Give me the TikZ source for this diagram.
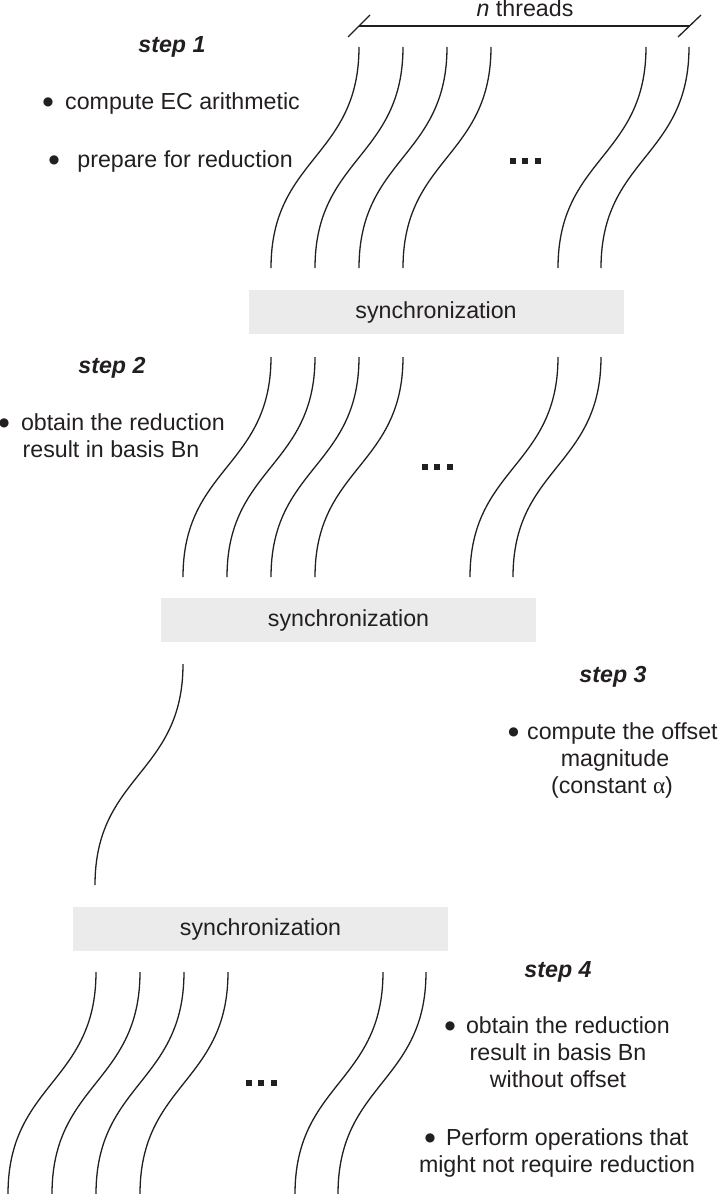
\documentclass[tikz,border=0pt]{standalone}
\usepackage{fontspec}
\setmainfont{Liberation Sans}
\newfontfamily\alphafont{Liberation Serif}
\newfontfamily\bulfont{DejaVu Sans}
\definecolor{ink}{RGB}{35,31,32}
\definecolor{syncfill}{RGB}{235,235,236}
\newcommand{\threadset}[5]{%
  \foreach \o [count=\i] in {#5} {
    \coordinate (#1t\i) at ({#2+\o},#3);
    \coordinate (#1b\i) at ({#2+\o-88},#4);
    \draw[thread] (#1t\i) .. controls +(0,{(#4-#3)/2}) and +(0,{-(#4-#3)/2}) .. (#1b\i);
  }}
\newcommand{\dotrow}[2]{%
  \foreach \dx in {-12.5,0,12.5} {
    \fill[ink] ({#1+\dx-3},{#2-2.8}) rectangle ++(6,5.6);
  }}
\begin{document}
\begin{tikzpicture}[x=0.5pt,y=-0.5pt,
  every node/.style={inner sep=0pt, outer sep=0pt, text=ink, font=\fontsize{11.6pt}{13.5pt}\selectfont},
  thread/.style={draw=ink, line width=0.65pt},
  syncbox/.style={fill=syncfill, minimum width=187.5pt, minimum height=22pt, anchor=center},
  steplabel/.style={anchor=base, font=\fontsize{11.6pt}{13.5pt}\selectfont\bfseries\itshape},
  bullet/.style={anchor=center, font=\fontsize{6pt}{7pt}\bulfont},
  bline/.style={anchor=base west},
  cline/.style={anchor=base}
]
\useasboundingbox (0,0) rectangle (719,1194);

% n threads brace
\coordinate (bl) at (359,26);
\coordinate (br) at (689.5,26);
\draw[thread] (bl) -- (br);
\draw[thread] (bl) ++(-11,11) -- ++(22,-22);
\draw[thread] (br) ++(-11.5,11) -- ++(23,-22);
\node[anchor=base] (nthr) at (525,17) {\textit{n} threads};

% step 1
\threadset{sa}{359}{47}{268}{0,44,88,132,287,330}
\dotrow{525}{161}
\node[steplabel] (st1) at (172,53) {step 1};
\node[bullet] (b1a) at (48,102.5) {●};
\node[bline] (st1a) at (65.2,109) {compute EC arithmetic};
\node[bullet] (b1b) at (54,160.5) {●};
\node[bline] (st1b) at (77.4,167) {prepare for reduction};

\node[syncbox] (sync1) at (436,312) {synchronization};

% step 2
\threadset{sb}{271}{357}{577}{0,44,88,132,287,330}
\dotrow{437}{467}
\node[steplabel] (st2) at (112,373) {step 2};
\node[bullet] (b2a) at (4,423.5) {●};
\node[bline] (st2a) at (21,430) {obtain the reduction};
\node[cline] (st2b) at (111,457) {result in basis Bn};

\node[syncbox] (sync2) at (348.5,620) {synchronization};

% step 3
\threadset{sc}{183}{664}{885}{0}
\node[steplabel] (st3) at (613,682) {step 3};
\node[bullet] (b3a) at (513.5,732.5) {●};
\node[bline] (st3a) at (527.2,739) {compute the offset};
\node[cline] (st3b) at (615,766) {magnitude};
\node[cline] (st3c) at (612,793) {(constant {\alphafont α})};

\node[syncbox] (sync3) at (260.5,929) {synchronization};

% step 4
\threadset{sd}{96}{972}{1194}{0,44,88,132,287,330}
\dotrow{261}{1083}
\node[steplabel] (st4) at (558,977) {step 4};
\node[bullet] (b4a) at (450,1026.5) {●};
\node[bline] (st4a) at (466,1033) {obtain the reduction};
\node[cline] (st4b) at (558,1060) {result in basis Bn};
\node[cline] (st4c) at (558,1087) {without offset};
\node[bullet] (b4d) at (430,1138.5) {●};
\node[bline] (st4d) at (446,1145) {Perform operations that};
\node[cline] (st4e) at (557,1172) {might not require reduction};
\end{tikzpicture}
\end{document}
